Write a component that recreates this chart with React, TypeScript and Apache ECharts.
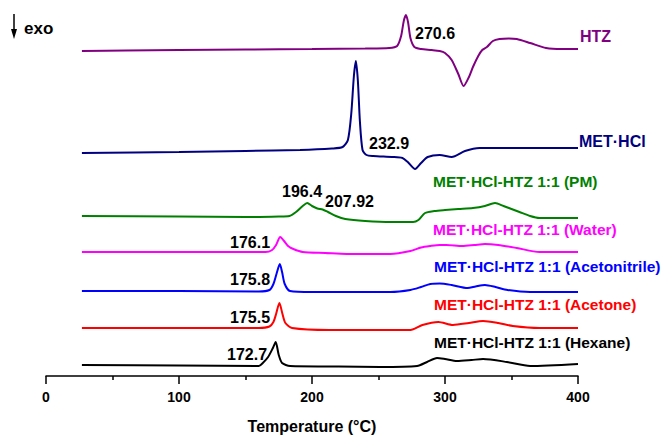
import React, { useEffect, useRef } from "react";
import * as echarts from "echarts";

// Temperatures (°C) and stacked (offset) DSC signals
const tHTZ = [27, 60, 100, 150, 200, 240, 258, 264, 267, 269, 270.6, 272.2, 274, 277, 282, 290, 296, 300, 305, 310, 314, 318, 321, 325, 328, 331.5, 336, 341, 348, 354, 364, 376, 388, 400];
const vHTZ = [325, 325.5, 326, 326.5, 327, 327.5, 328, 330, 340, 355, 361, 354, 338, 329, 327, 326, 325, 323, 316, 302, 290, 299, 309, 320, 326, 329, 335, 337, 337.5, 337, 333, 328, 327, 327];

const tMET = [27, 100, 150, 191, 215, 223, 227, 229.5, 231.5, 233, 234.5, 236, 238, 241, 246, 260, 268, 272, 277.5, 282, 287, 296, 305, 315, 326, 350, 375, 400];
const vMET = [223, 224, 225, 226, 227.5, 229, 236, 262, 300, 315, 295, 255, 226, 221, 220, 219, 218, 214, 207, 213, 219, 221, 219, 225, 228, 228, 228, 228];

const tPM = [27, 100, 150, 175, 183, 188, 193, 196.4, 200, 204, 208, 212, 218, 225, 240, 260, 276, 280, 285, 292, 300, 310, 321, 330, 337.6, 344, 350, 356, 364, 371, 385, 400];
const vPM = [160, 159.5, 159, 159.5, 160, 164, 170, 173, 170, 167.5, 166.5, 164, 160, 157, 155, 154, 154, 156, 163, 165, 166, 167, 168, 170, 173, 170, 167, 164, 160, 158, 158, 158];

const tWater = [27, 100, 150, 165, 170, 173, 176.1, 179, 182, 186, 193, 210, 226, 259, 274, 282, 289, 296, 301, 313, 322, 330, 340, 354, 371, 400];
const vWater = [124, 124, 124, 124, 126, 131, 139, 135, 130, 127, 124, 123, 122, 122, 125, 128.5, 130, 131, 131, 130, 131, 132, 131, 128, 124, 124];

const tAcn = [27, 100, 160, 168, 171, 173.5, 175.8, 177.5, 179.5, 183.5, 200, 259, 274, 282, 289, 296, 305, 317, 323, 330, 338, 347, 364, 400];
const vAcn = [85, 85, 84.5, 86, 92, 103, 112, 104, 92, 85, 84, 84, 86, 89, 92, 92.5, 91, 88, 89.5, 91, 89, 86, 84, 84];

const tAce = [27, 100, 160, 168, 171, 173, 175.5, 177.8, 180, 185, 213, 274, 283, 295, 306, 318, 328.6, 340, 351, 371, 400];
const vAce = [48, 48, 48, 49.5, 54, 62, 73, 62, 53, 48, 46, 46, 51, 54, 51, 53, 55, 53, 50, 48, 48];

const tHex = [27, 100, 160, 163, 167, 170.6, 172.7, 175, 177.5, 183.5, 220, 251, 279, 286.5, 294, 300, 309, 320, 328.6, 346.6, 364, 400];
const vHex = [11, 10.5, 10, 13, 19, 28, 34, 21, 13, 10, 9.5, 9, 10, 14, 18, 17, 15, 16, 17, 14, 10, 12];

const seriesNames = [
  "HTZ",
  "MET·HCl",
  "MET·HCl-HTZ 1:1 (PM)",
  "MET·HCl-HTZ 1:1 (Water)",
  "MET·HCl-HTZ 1:1 (Acetonitrile)",
  "MET·HCl-HTZ 1:1 (Acetone)",
  "MET·HCl-HTZ 1:1 (Hexane)",
];
const seriesColors = ["#800080", "#000080", "#008000", "#ff00ff", "#0000ff", "#ff0000", "#000000"];
const seriesT = [tHTZ, tMET, tPM, tWater, tAcn, tAce, tHex];
const seriesV = [vHTZ, vMET, vPM, vWater, vAcn, vAce, vHex];

const peakLabels = ["270.6", "232.9", "196.4", "207.92", "176.1", "175.8", "175.5", "172.7"];
const xTicks = [0, 100, 200, 300, 400];

const FONT = "Liberation Sans, Arial, sans-serif";

export default function App() {
  const ref = useRef<HTMLDivElement>(null);
  useEffect(() => {
    if (!ref.current) return;
    const chart = echarts.init(ref.current, null, { renderer: "svg" });

    const series = seriesNames.map((name, i) => ({
      name,
      type: "line",
      data: seriesT[i].map((t, j) => [t, seriesV[i][j]]),
      showSymbol: false,
      smooth: 0.25,
      lineStyle: { color: seriesColors[i], width: 2 },
      itemStyle: { color: seriesColors[i] },
    }));

    // name label positions [left, centerY, fontSize]
    const namePos = [
      [580, 36, 16],
      [579, 141, 16],
      [433, 181, 15.5],
      [433, 229, 15.5],
      [434, 266, 15.5],
      [434, 304, 15.5],
      [434, 342, 15.5],
    ];
    const peakPos = [
      [415, 33],
      [369, 143],
      [282, 191],
      [325, 201],
      [230, 242],
      [230, 279],
      [230, 317],
      [227, 354],
    ];

    const graphic: any[] = [];
    seriesNames.forEach((n, i) => {
      graphic.push({
        type: "text",
        x: namePos[i][0],
        y: namePos[i][1],
        style: {
          text: n,
          fill: seriesColors[i],
          font: `bold ${namePos[i][2]}px ${FONT}`,
          verticalAlign: "middle",
          align: "left",
        },
      });
    });
    peakLabels.forEach((p, i) => {
      graphic.push({
        type: "text",
        x: peakPos[i][0],
        y: peakPos[i][1],
        style: {
          text: p,
          fill: "#000",
          font: `bold 16px ${FONT}`,
          verticalAlign: "middle",
          align: "left",
        },
      });
    });
    // exo arrow
    graphic.push({
      type: "line",
      shape: { x1: 14, y1: 14, x2: 14, y2: 31 },
      style: { stroke: "#000", lineWidth: 1.5 },
    });
    graphic.push({
      type: "polygon",
      shape: { points: [[11, 29], [17, 29], [14, 39]] },
      style: { fill: "#000" },
    });
    graphic.push({
      type: "text",
      x: 24,
      y: 28,
      style: {
        text: "exo",
        fill: "#000",
        font: `bold 17px ${FONT}`,
        verticalAlign: "middle",
        align: "left",
      },
    });

    chart.setOption({
      animation: false,
      backgroundColor: "#ffffff",
      grid: { left: 46, right: 92, top: 0, bottom: 59, outerBoundsMode: "none", containLabel: false },
      xAxis: {
        type: "value",
        min: 0,
        max: 400,
        interval: 100,
        name: "Temperature (°C)",
        nameLocation: "middle",
        nameGap: 42,
        nameTextStyle: { fontFamily: FONT, fontWeight: "bold", fontSize: 16, color: "#000" },
        axisLine: { show: true, lineStyle: { color: "#000", width: 1.5 } },
        axisTick: { show: true, inside: false, length: 8, lineStyle: { color: "#000", width: 1.5 } },
        minorTick: { show: true, splitNumber: 2, length: 4, lineStyle: { color: "#000", width: 1.5 } },
        axisLabel: {
          margin: 14,
          fontFamily: FONT,
          fontWeight: "bold",
          fontSize: 14,
          color: "#000",
          formatter: (v: number) => (xTicks.includes(v) ? String(v) : ""),
        },
        splitLine: { show: false },
      },
      yAxis: {
        type: "value",
        min: 0,
        max: 376,
        show: false,
        splitLine: { show: false },
      },
      series,
      graphic,
    });
    return () => chart.dispose();
  }, []);
  return (
    <div
      ref={ref}
      style={{ position: "fixed", left: 0, top: 0, width: 670, height: 435, background: "#fff" }}
    />
  );
}
